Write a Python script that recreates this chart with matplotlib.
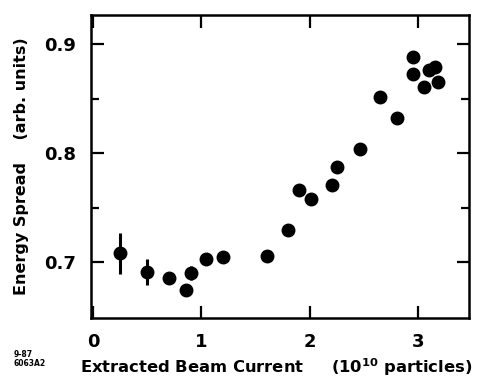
import matplotlib
matplotlib.use("Agg")
import matplotlib.pyplot as plt
import numpy as np

# beam current (1e10 particles) and energy spread (arb. units)
corrente = [0.245, 0.50, 0.70, 0.86, 0.90, 1.046, 1.20, 1.60, 1.80, 1.90, 2.01,
            2.20, 2.25, 2.46, 2.65, 2.80, 2.95, 2.95, 3.055, 3.10, 3.155, 3.185]
espalhamento = [0.7083, 0.6914, 0.6859, 0.6746, 0.6905, 0.7028, 0.7051, 0.7061,
                0.7296, 0.7663, 0.7578, 0.7709, 0.7877, 0.8039, 0.8514, 0.8327,
                0.8886, 0.8730, 0.8611, 0.8764, 0.8794, 0.8657]
erro = [0.019, 0.012, 0.0, 0.0, 0.0065, 0.0, 0.0, 0.0, 0.0, 0.0, 0.0,
        0.0, 0.0, 0.0, 0.0, 0.0, 0.0, 0.0, 0.0, 0.0, 0.0, 0.0]

x_ticks = [0, 1, 2, 3]
y_ticks = [0.7, 0.8, 0.9]
y_minor = [0.75, 0.85]

fonte = {'family': 'DejaVu Sans', 'weight': 'bold'}

fig = plt.figure(figsize=(4.90, 3.81), dpi=100)
ax = fig.add_axes([0.186, 0.1654, 0.771, 0.7952])

ax.errorbar(corrente, espalhamento, yerr=erro, fmt='o', color='black',
            markersize=9, elinewidth=2.2, capsize=0)

ax.set_xlim(-0.017, 3.466)
ax.set_ylim(0.6489, 0.9269)

ax.set_xticks(x_ticks)
ax.set_xticklabels([str(t) for t in x_ticks], fontdict=fonte, fontsize=13)
ax.set_yticks(y_ticks)
ax.set_yticklabels(['0.7', '0.8', '0.9'], fontdict=fonte, fontsize=13)
ax.set_yticks(y_minor, minor=True)

ax.tick_params(which='major', direction='in', length=9, width=1.6,
               top=True, right=True, pad=11)
ax.tick_params(which='minor', direction='in', length=5.5, width=1.6,
               right=True)

for s in ax.spines.values():
    s.set_linewidth(1.8)

ax.set_xlabel('Extracted Beam Current     (10$^{\\mathbf{10}}$ particles)',
              fontdict=fonte, fontsize=11.8)
ax.xaxis.set_label_coords(0.49, -0.125)
ax.set_ylabel('Energy Spread    (arb. units)', fontdict=fonte, fontsize=11.5,
              labelpad=11)

fig.text(0.027, 0.035, '9-87\n6063A2', fontsize=5.5, fontweight='bold',
         linespacing=1.0, va='bottom')

fig.savefig('out.png', dpi=100)
